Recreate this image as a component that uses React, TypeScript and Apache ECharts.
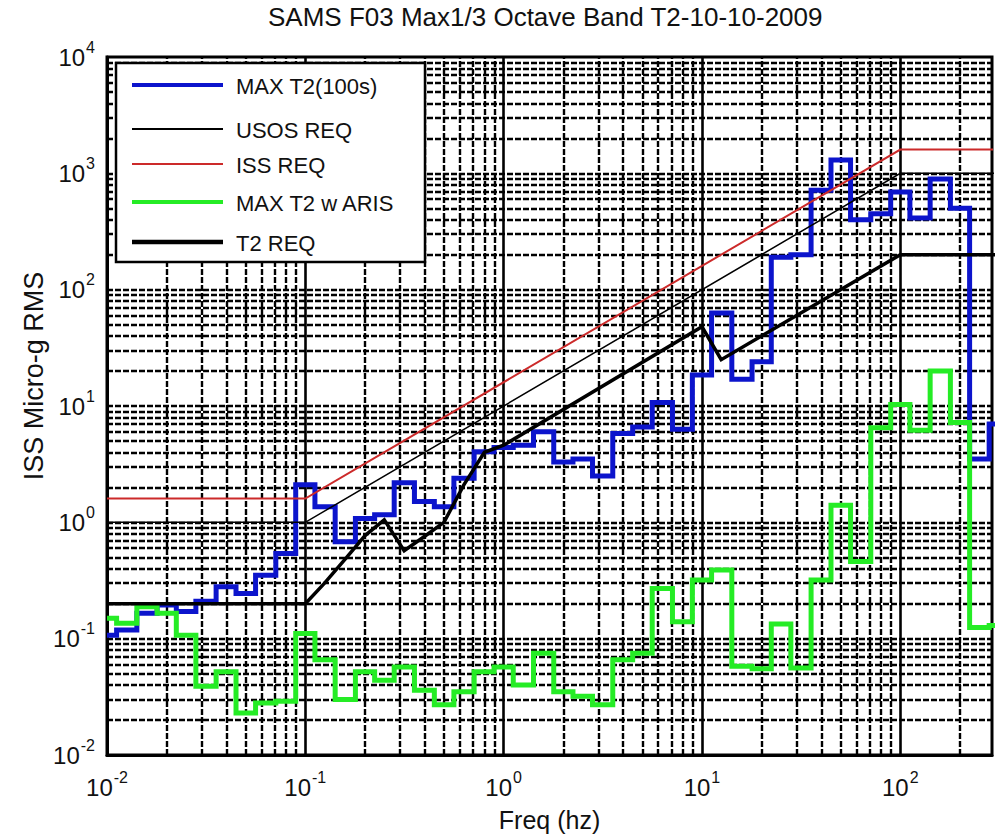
import React, { useEffect, useRef } from "react";
import * as echarts from "echarts";

const FONT = '"Liberation Sans", Arial, Helvetica, sans-serif';

// 1/3 octave band centre frequencies (Hz)
const bandFreqs = [
  0.01, 0.0125, 0.016, 0.02, 0.025, 0.0315, 0.04, 0.05, 0.063, 0.08,
  0.1, 0.125, 0.16, 0.2, 0.25, 0.315, 0.4, 0.5, 0.63, 0.8,
  1, 1.25, 1.6, 2, 2.5, 3.15, 4, 5, 6.3, 8,
  10, 12.5, 16, 20, 25, 31.5, 40, 50, 63, 80,
  100, 125, 160, 200, 250, 315,
];

// MAX T2(100s) band RMS (micro-g)
const maxT2Values = [
  0.107, 0.119, 0.165, 0.195, 0.171, 0.21, 0.28, 0.245, 0.35, 0.54,
  2.1, 1.36, 0.68, 1.08, 1.16, 2.19, 1.51, 1.36, 2.39, 4.05,
  4.4, 4.6, 6.0, 3.3, 3.5, 2.5, 5.8, 6.6, 10.7, 6.3,
  18.5, 63, 17, 24, 190, 200, 716, 1300, 400, 450,
  690, 413, 893, 500, 3.5, 7,
];

// MAX T2 w ARIS band RMS (micro-g)
const arisValues = [
  0.15, 0.136, 0.188, 0.165, 0.107, 0.039, 0.052, 0.023, 0.028, 0.029,
  0.111, 0.066, 0.03, 0.052, 0.044, 0.057, 0.036, 0.027, 0.035, 0.052,
  0.057, 0.04, 0.075, 0.035, 0.032, 0.027, 0.066, 0.075, 0.27, 0.14,
  0.32, 0.39, 0.058, 0.055, 0.134, 0.056, 0.32, 1.4, 0.46, 6.5,
  10.3, 6.2, 20, 7.2, 0.125, 0.13,
];

// Requirement curves
const reqFreqs = [0.01, 0.1, 100, 1000];
const usosReqValues = [1, 1, 1000, 1000];
const issReqValues = [1.6, 1.6, 1600, 1600];

const t2ReqFreqs = [0.01, 0.1, 0.125, 0.16, 0.2, 0.25, 0.315, 0.4, 0.5, 0.63, 0.8, 1, 10, 12.5, 100, 1000];
const t2ReqValues = [0.2, 0.2, 0.3, 0.49, 0.77, 1.05, 0.57, 0.76, 1.0, 2.1, 4.0, 4.6, 48, 25, 200, 200];

const TITLE = "SAMS F03 Max1/3 Octave Band T2-10-10-2009";
const X_NAME = "Freq (hz)";
const Y_NAME = "ISS Micro-g RMS";

const X_MIN = 0.01;
const X_MAX = 290;
const Y_MIN = 0.01;
const Y_MAX = 10000;

const pair = (xs: number[], ys: number[]) => xs.map((x, i) => [x, ys[i]]);

const seriesDefs = [
  { name: "MAX T2(100s)", color: "#0c14cc", width: 5, legendWidth: 4, data: pair(bandFreqs, maxT2Values), step: "middle" },
  { name: "USOS REQ", color: "#000000", width: 1.5, legendWidth: 2, data: pair(reqFreqs, usosReqValues), step: false },
  { name: "ISS REQ", color: "#cc2a2a", width: 2, legendWidth: 2, data: pair(reqFreqs, issReqValues), step: false },
  { name: "MAX T2 w ARIS", color: "#25ec25", width: 5, legendWidth: 4, data: pair(bandFreqs, arisValues), step: "middle" },
  { name: "T2 REQ", color: "#000000", width: 3.5, legendWidth: 4.5, data: pair(t2ReqFreqs, t2ReqValues), step: false },
];

const legendRows = [85, 129, 164, 202, 242];

function powerLabel(v: number): string {
  const e = Math.log10(v);
  const r = Math.round(e);
  if (Math.abs(e - r) > 1e-6) return "";
  return `{b|10}{s|${r}}`;
}

const richLabel = {
  b: { fontSize: 24, fontFamily: FONT, color: "#111", lineHeight: 36 },
  s: { fontSize: 16, fontFamily: FONT, color: "#111", lineHeight: 16, verticalAlign: "top", padding: [0, 0, 0, 1] },
};

function gridLines() {
  const dashed = { color: "#000", width: 2.4, type: [6, 2] as any };
  const solid = { color: "#000", width: 2.6, type: "solid" };
  const items: any[] = [];
  for (let k = -2; k <= 2; k++) {
    for (let m = 2; m <= 9; m++) {
      const v = m * Math.pow(10, k);
      if (v < X_MAX) items.push({ xAxis: v, lineStyle: dashed });
    }
    if (k > -2) items.push({ xAxis: Math.pow(10, k), lineStyle: solid });
  }
  for (let k = -2; k <= 3; k++) {
    for (let m = 2; m <= 9; m++) {
      items.push({ yAxis: m * Math.pow(10, k), lineStyle: dashed });
    }
    if (k > -2) items.push({ yAxis: Math.pow(10, k), lineStyle: dashed });
  }
  return items;
}

export default function App() {
  const ref = useRef<HTMLDivElement>(null);
  useEffect(() => {
    if (!ref.current) return;
    const chart = echarts.init(ref.current, null, { renderer: "svg" });
    const option: any = {
      animation: false,
      backgroundColor: "#ffffff",
      title: {
        text: TITLE,
        left: 268,
        top: 4,
        padding: 0,
        textStyle: { fontSize: 26, fontWeight: "normal", fontFamily: FONT, color: "#111" },
      },
      grid: {
        left: 107,
        right: -2,
        top: 57,
        bottom: 83,
        show: true,
        backgroundColor: "#ffffff",
        borderColor: "#000",
        borderWidth: 3,
      },
      xAxis: {
        type: "log",
        logBase: 10,
        min: X_MIN,
        max: X_MAX,
        name: X_NAME,
        nameLocation: "middle",
        nameGap: 52,
        nameTextStyle: { fontSize: 25, fontFamily: FONT, color: "#111" },
        axisLine: { show: true, lineStyle: { color: "#000", width: 3 } },
        axisTick: { show: false },
        splitLine: { show: false },
        axisLabel: { margin: 14, formatter: powerLabel, rich: richLabel },
      },
      yAxis: {
        type: "log",
        logBase: 10,
        min: Y_MIN,
        max: Y_MAX,
        axisLine: { show: true, lineStyle: { color: "#000", width: 3 } },
        axisTick: { show: false },
        splitLine: { show: false },
        axisLabel: { margin: 12, formatter: powerLabel, rich: richLabel },
      },
      series: [
        {
          type: "line",
          name: "grid",
          data: [],
          z: 1,
          silent: true,
          markLine: {
            z: 1,
            silent: true,
            symbol: ["none", "none"],
            label: { show: false },
            emphasis: { disabled: true },
            animation: false,
            data: gridLines(),
          },
        },
        ...seriesDefs.map((s, i) => ({
          type: "line",
          name: s.name,
          data: s.data,
          step: s.step,
          showSymbol: false,
          symbol: "none",
          z: 10 + i,
          silent: true,
          lineStyle: { color: s.color, width: s.width, join: "miter" },
          itemStyle: { color: s.color },
        })),
      ],
      graphic: {
        elements: [
          {
            type: "rect",
            z: 100,
            silent: true,
            shape: { x: 116, y: 63, width: 309, height: 199 },
            style: { fill: "#fff", stroke: "#000", lineWidth: 2.5 },
          },
          ...seriesDefs.map((s, i) => ({
            type: "line",
            z: 101,
            silent: true,
            shape: { x1: 132, y1: legendRows[i], x2: 223, y2: legendRows[i] },
            style: { stroke: s.color, lineWidth: s.legendWidth },
          })),
          ...seriesDefs.map((s, i) => ({
            type: "text",
            z: 101,
            silent: true,
            x: 236,
            y: legendRows[i] + 1,
            style: {
              text: s.name,
              fill: "#111",
              font: `22px ${FONT}`,
              textAlign: "left",
              textVerticalAlign: "middle",
              align: "left",
              verticalAlign: "middle",
            },
          })),
          {
            type: "text",
            z: 100,
            silent: true,
            x: 34,
            y: 376,
            rotation: Math.PI / 2,
            style: {
              text: Y_NAME,
              fill: "#111",
              font: `27px ${FONT}`,
              textAlign: "center",
              textVerticalAlign: "middle",
              align: "center",
              verticalAlign: "middle",
            },
          },
        ],
      },
    };
    chart.setOption(option);
    return () => chart.dispose();
  }, []);
  return (
    <div
      ref={ref}
      style={{ position: "fixed", left: 0, top: 0, width: 995, height: 838, background: "#fff" }}
    />
  );
}
